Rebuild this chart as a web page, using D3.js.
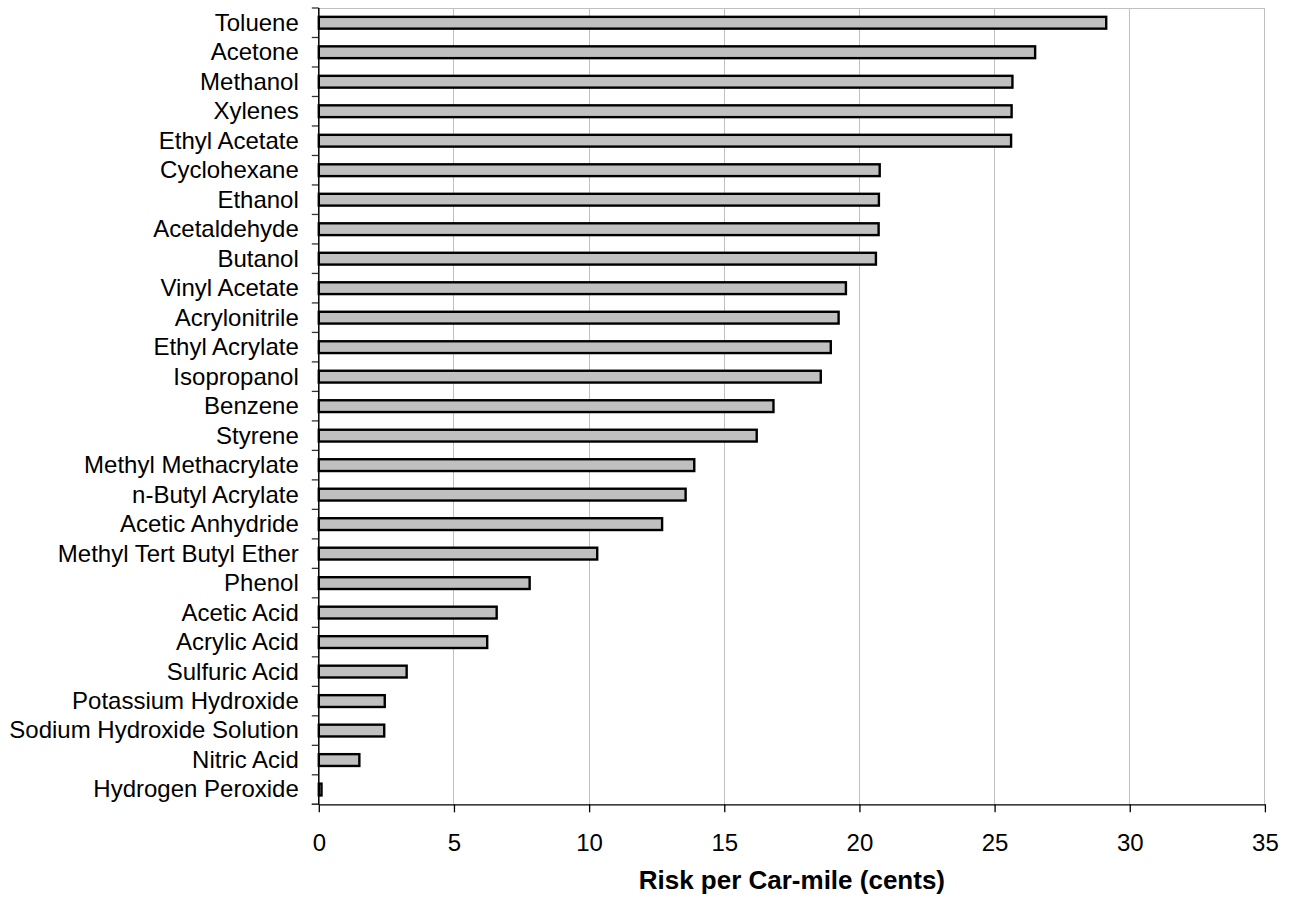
<!DOCTYPE html>
<html>
<head>
<meta charset="utf-8">
<script src="https://cdn.jsdelivr.net/npm/d3@7"></script>
<style>
html,body{margin:0;padding:0;background:#fff;}
svg{display:block;}
</style>
</head>
<body>
<svg id="chart" width="1298" height="899"></svg>
<script>
const categories = ["Toluene","Acetone","Methanol","Xylenes","Ethyl Acetate","Cyclohexane","Ethanol","Acetaldehyde","Butanol","Vinyl Acetate","Acrylonitrile","Ethyl Acrylate","Isopropanol","Benzene","Styrene","Methyl Methacrylate","n-Butyl Acrylate","Acetic Anhydride","Methyl Tert Butyl Ether","Phenol","Acetic Acid","Acrylic Acid","Sulfuric Acid","Potassium Hydroxide","Sodium Hydroxide Solution","Nitric Acid","Hydrogen Peroxide"];
const values = [29.13,26.5,25.66,25.63,25.61,20.75,20.72,20.71,20.61,19.5,19.23,18.94,18.57,16.82,16.2,13.89,13.57,12.7,10.3,7.8,6.58,6.23,3.25,2.44,2.42,1.5,0.1];
const xTicks = [0,5,10,15,20,25,30,35];
const xTitle = "Risk per Car-mile (cents)";

(function(){
const svg = d3.select("#chart");
const mL = 318.8, mR = 1264.9, mT = 8, mB = 804.3;
const font = "'Liberation Sans', Arial, sans-serif";

const x = d3.scaleLinear().domain([0,35]).range([mL,mR]);
const y = d3.scaleBand().domain(categories).range([mT,mB]).paddingInner(0.6).paddingOuter(0.3);
const step = y.step();

// gridlines
svg.append("g").selectAll("line").data(xTicks.filter(d=>d>0)).join("line")
  .attr("x1",d=>x(d)).attr("x2",d=>x(d)).attr("y1",mT).attr("y2",mB)
  .attr("stroke","#c0c0c0").attr("stroke-width",1).attr("shape-rendering","crispEdges");
// top border
svg.append("line").attr("x1",mL).attr("x2",mR).attr("y1",mT).attr("y2",mT)
  .attr("stroke","#c0c0c0").attr("stroke-width",1).attr("shape-rendering","crispEdges");

// bars
svg.append("g").selectAll("rect").data(values).join("rect")
  .attr("x",x(0)).attr("y",(d,i)=>y(categories[i]))
  .attr("width",d=>x(d)-x(0)).attr("height",y.bandwidth())
  .attr("fill","#c0c0c0").attr("stroke","#000").attr("stroke-width",2.4);

// x axis
const xAxis = d3.axisBottom(x).tickValues(xTicks).tickSize(8).tickPadding(22).tickSizeOuter(0);
const gx = svg.append("g").attr("transform",`translate(0,${mB})`).call(xAxis);
gx.select(".domain").attr("stroke","#000").attr("stroke-width",1.3);
gx.selectAll(".tick line").attr("stroke","#000").attr("stroke-width",1.3);
gx.selectAll(".tick text").attr("font-family",font).attr("font-size",24).attr("fill","#000");
svg.append("line").attr("x1",mL-7).attr("x2",mL).attr("y1",mB).attr("y2",mB)
  .attr("stroke","#000").attr("stroke-width",1.3);

// y axis ticks at band boundaries
svg.append("g").selectAll("line").data(d3.range(categories.length+1)).join("line")
  .attr("x1",mL-7).attr("x2",mL)
  .attr("y1",i=>mT+i*step).attr("y2",i=>mT+i*step)
  .attr("stroke","#333").attr("stroke-width",1.3);
svg.append("line").attr("x1",mL).attr("x2",mL).attr("y1",mT).attr("y2",mB)
  .attr("stroke","#000").attr("stroke-width",1.5);

// category labels
svg.append("g").selectAll("text").data(categories).join("text")
  .attr("x",mL-20).attr("y",d=>y(d)+y.bandwidth()/2)
  .attr("dy","0.33em").attr("text-anchor","end")
  .attr("font-family",font).attr("font-size",24).attr("fill","#000")
  .text(d=>d);

// x title
svg.append("text").attr("x",(mL+mR)/2).attr("y",888.5)
  .attr("text-anchor","middle").attr("font-family",font).attr("font-size",26)
  .attr("font-weight","bold").attr("fill","#000").text(xTitle);
})();
</script>
</body>
</html>
